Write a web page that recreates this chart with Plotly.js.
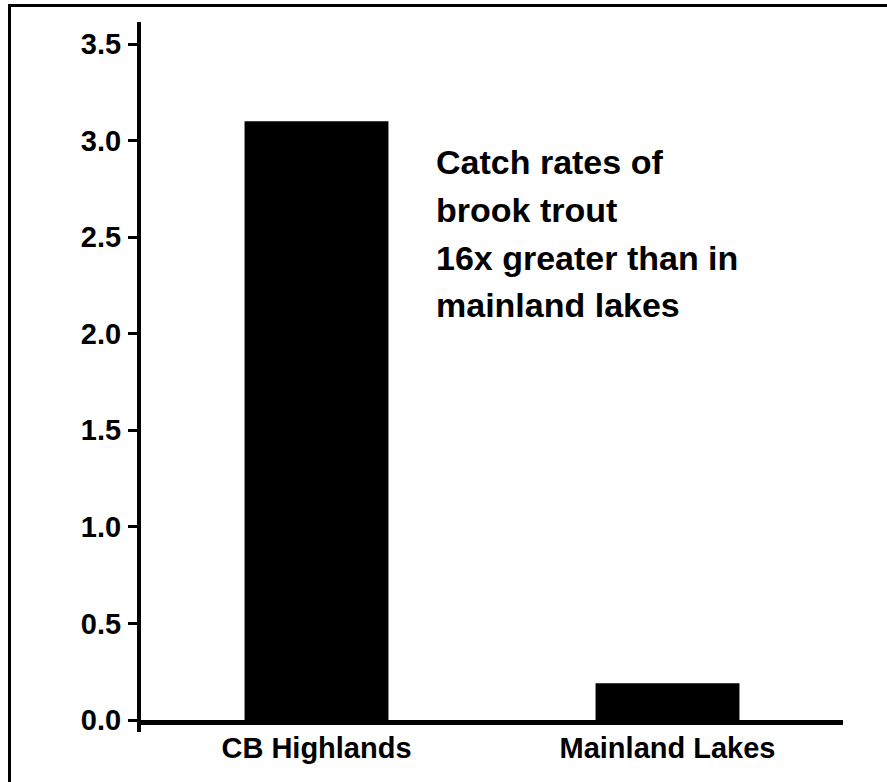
<!DOCTYPE html>
<html>
<head>
<meta charset="utf-8">
<script src="https://cdn.plot.ly/plotly-3.0.1.min.js"></script>
<style>
  html, body { margin: 0; padding: 0; background: #fff; }
  #chart { width: 887px; height: 782px; }
</style>
</head>
<body>
<div id="chart"></div>
<script>
const categories = ["CB Highlands", "Mainland Lakes"];
const catchRates = [3.1, 0.19];
const yTickValues = [0, 0.5, 1, 1.5, 2, 2.5, 3, 3.5];
const yTickLabels = ["0.0", "0.5", "1.0", "1.5", "2.0", "2.5", "3.0", "3.5"];
const noteLines = ["Catch rates of", "brook trout", "16x greater than in", "mainland lakes"];

const fontFamily = "Liberation Sans, Arial, Helvetica, sans-serif";

const trace = {
  type: "bar",
  x: categories,
  y: catchRates,
  width: 0.41,
  marker: { color: "#000000", line: { width: 0 } },
  hoverinfo: "skip"
};

const plotW = 702, plotH = 698;
const noteAnnotations = noteLines.map((line, i) => ({
  text: line,
  xref: "paper", yref: "paper",
  x: (434 - 141) / plotW, y: (720 - 172 - i * 47.8) / plotH,
  xanchor: "left", yanchor: "bottom", align: "left",
  yshift: -11,
  showarrow: false,
  font: { family: fontFamily, size: 34, color: "#000000", weight: "bold" }
}));

const layout = {
  width: 887,
  height: 782,
  margin: { l: 141, r: 44, t: 22, b: 62, pad: 0 },
  paper_bgcolor: "#ffffff",
  plot_bgcolor: "#ffffff",
  showlegend: false,
  xaxis: {
    type: "category",
    range: [-0.5, 1.5],
    showline: true,
    linecolor: "#000000",
    linewidth: 5,
    ticks: "",
    showgrid: false,
    zeroline: false,
    tickfont: { family: fontFamily, size: 29, color: "#000000", weight: "bold" },
    ticklabelstandoff: -2,
    fixedrange: true
  },
  yaxis: {
    range: [0, 3.614],
    showline: true,
    linecolor: "#000000",
    linewidth: 4,
    ticks: "outside",
    ticklen: 9,
    tickwidth: 3,
    tickcolor: "#000000",
    tickvals: yTickValues,
    ticktext: yTickLabels,
    showgrid: false,
    zeroline: false,
    tickfont: { family: fontFamily, size: 29, color: "#000000", weight: "bold" },
    ticklabelstandoff: 1,
    fixedrange: true
  },
  annotations: noteAnnotations,
  shapes: [
    { type: "line", xref: "paper", yref: "paper", layer: "above",
      x0: -2 / plotW, x1: -2 / plotW, y0: 0, y1: -12 / plotH,
      line: { color: "#000000", width: 4 } },
    { type: "line", xref: "paper", yref: "paper", layer: "above",
      x0: (9.5 - 141) / plotW, x1: (9.5 - 141) / plotW, y0: (720 - 4) / plotH, y1: -70 / plotH,
      line: { color: "#000000", width: 3 } },
    { type: "line", xref: "paper", yref: "paper", layer: "above",
      x0: (8 - 141) / plotW, x1: 60 / plotW + 1, y0: (720 - 5.5) / plotH, y1: (720 - 5.5) / plotH,
      line: { color: "#000000", width: 3 } }
  ]
};

Plotly.newPlot("chart", [trace], layout, { displayModeBar: false, staticPlot: true });
</script>
</body>
</html>
